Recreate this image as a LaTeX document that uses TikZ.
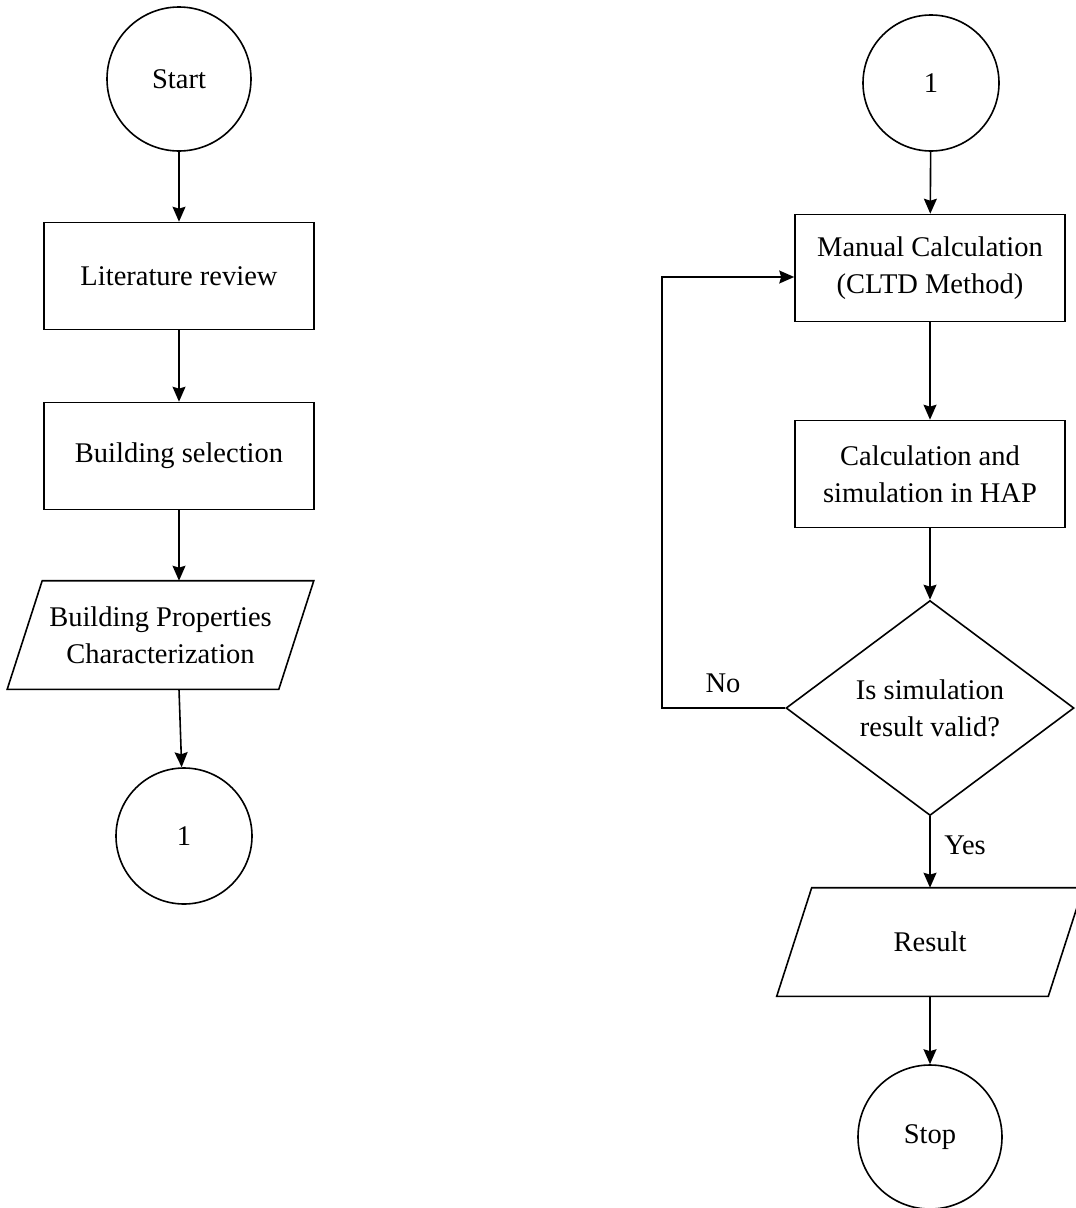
\documentclass[tikz,border=0pt]{standalone}
\usepackage{fontspec}
\setmainfont{Liberation Serif}
\usetikzlibrary{positioning,shapes.geometric,arrows.meta}
\tikzset{term/.style={draw,circle,minimum size=144pt,inner sep=0pt}}
\tikzset{conn/.style={draw,circle,minimum size=136pt,inner sep=0pt}}
\tikzset{process/.style={draw,rectangle,minimum width=270pt,minimum height=107pt,align=center,inner sep=0pt}}
\tikzset{io/.style={rectangle,minimum width=270pt,minimum height=107pt,align=center,inner sep=0pt}}
\tikzset{decision/.style={draw,diamond,minimum width=288pt,minimum height=215pt,align=center,inner sep=0pt}}
\tikzset{flow/.style={-{Stealth[length=15pt,width=13pt,inset=2pt]}}}

\begin{document}
\begin{tikzpicture}[x=1pt,y=-1pt,line width=1.6pt,font=\fontsize{28.5}{37}\selectfont]
  \useasboundingbox (0,0) rectangle (1076,1208);
  % left column
  \node[term] (start) at (179,79) {Start};
  \node[process] (litrev) at (179,276) {Literature review};
  \node[process] (bldsel) at (179,456) {Building selection};
  \node[io] (bldprop) at (160.5,635) {Building Properties\\Characterization};
  \node[conn] (connA) at (184,836) {1};
  \draw[flow] (start) -- (litrev);
  \draw[flow] (litrev) -- (bldsel);
  \draw[flow] (bldsel) -- (bldsel |- bldprop.north);
  \draw[flow] (bldprop.south -| bldsel) -- (connA);
  % right column
  \node[conn] (connB) at (931,83) {1};
  \node[process] (manual) at (930,268) {Manual Calculation\\(CLTD Method)};
  \node[process] (hap) at (930,474) {Calculation and\\simulation in HAP};
  \node[decision] (valid) at (930,708) {Is simulation\\result valid?};
  \node[io] (result) at (930,942) {Result};
  \node[term] (stop) at (930,1137) {Stop};
  \coordinate (back) at (662,277);
  \draw[flow] (connB) -- (manual);
  \draw[flow] (manual) -- (hap);
  \draw[flow] (hap) -- (valid);
  \draw[flow] (valid) -- (result);
  \draw[flow] (result) -- (stop);
  \draw[flow] (valid.west) -| (back) -- (back -| manual.west);
  \node (no) at (723,683) {No};
  \node (yes) at (965,845) {Yes};
  % slanted outlines of the input/output boxes
  \foreach \n in {bldprop,result}
    \draw ([xshift=17.5pt]\n.north west) -- ([xshift=17.5pt]\n.north east)
      -- ([xshift=-17.5pt]\n.south east) -- ([xshift=-17.5pt]\n.south west) -- cycle;
\end{tikzpicture}
\end{document}
